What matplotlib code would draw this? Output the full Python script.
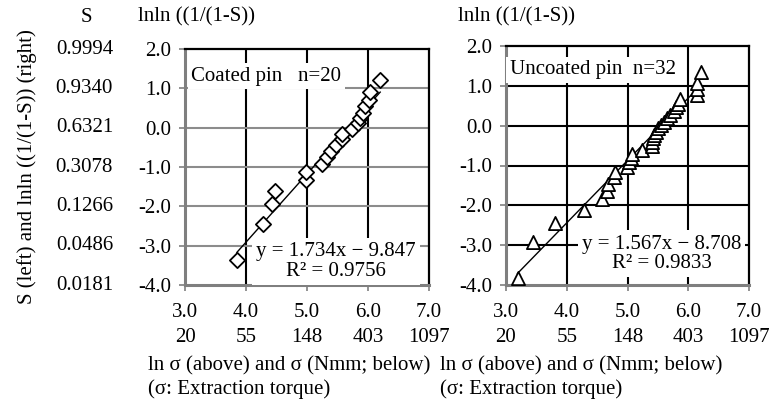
import matplotlib
matplotlib.use("Agg")
import matplotlib.pyplot as plt
import numpy as np

plt.rcParams['font.family'] = ['Liberation Serif', 'DejaVu Serif']
plt.rcParams['mathtext.fontset'] = 'stix'

# ---------------- data ----------------
coated_x = [3.85, 4.28, 4.42, 4.48, 4.98, 4.99, 5.24, 5.32, 5.39, 5.48,
            5.57, 5.58, 5.73, 5.84, 5.87, 5.92, 5.95, 6.02, 6.04, 6.20]
coated_y = [-3.36, -2.44, -1.95, -1.61, -1.34, -1.12, -0.92, -0.75, -0.59, -0.44,
            -0.30, -0.16, -0.03, 0.11, 0.24, 0.38, 0.54, 0.70, 0.91, 1.22]
coated_fit = (1.734, -9.847)
coated_r2 = 0.9756

uncoated_x = [3.19, 3.45, 3.80, 4.29, 4.58, 4.66, 4.68, 4.77, 4.80, 4.99,
              5.02, 5.05, 5.07, 5.24, 5.40, 5.41, 5.42, 5.44, 5.47, 5.50,
              5.55, 5.60, 5.65, 5.70, 5.76, 5.80, 5.83, 5.86, 6.15, 6.14,
              6.15, 6.21]
uncoated_y = [-3.82, -2.92, -2.44, -2.11, -1.85, -1.64, -1.46, -1.30, -1.16, -1.03,
              -0.91, -0.80, -0.70, -0.60, -0.50, -0.41, -0.32, -0.24, -0.15, -0.07,
              0.02, 0.10, 0.19, 0.27, 0.36, 0.46, 0.55, 0.66, 0.78, 0.91,
              1.08, 1.34]
uncoated_fit = (1.567, -8.708)
uncoated_r2 = 0.9833

x_ticks = [3.0, 4.0, 5.0, 6.0, 7.0]
x_sigma_labels = ['20', '55', '148', '403', '1097']
y_ticks = [2.0, 1.0, 0.0, -1.0, -2.0, -3.0, -4.0]
s_labels = ['0.9994', '0.9340', '0.6321', '0.3078', '0.1266', '0.0486', '0.0181']

W, H = 772, 412
fig = plt.figure(figsize=(W / 100, H / 100), dpi=100)
FS = 15
GRAY = '#7f7f7f'


def px(x, y):
    return x / W, 1 - y / H


def make_axes(rect, xs, ys, fit, r2, marker, ms, label, label_xy, eq_xy,
              hgrid_color):
    ax = fig.add_axes(rect)
    ax.set_xlim(3.0, 7.0)
    ax.set_ylim(-4.0, 2.0)
    ax.set_axisbelow(True)
    for v in x_ticks[1:-1]:
        ax.axvline(v, color='black', lw=1.5, zorder=0.5)
    for v in y_ticks[1:-1]:
        ax.axhline(v, color=hgrid_color, lw=1.5, zorder=0.5)
    ax.scatter(xs, ys, marker=marker, s=ms, facecolors='white',
               edgecolors='black', linewidths=1.3, zorder=3)
    a, b = fit
    lx = np.array([min(xs), max(xs)])
    ax.plot(lx, a * lx + b, color='black', lw=1.0, zorder=2)
    ax.set_xticks(x_ticks)
    ax.set_xticklabels([f"{v:.1f}\n{s}" for v, s in zip(x_ticks, x_sigma_labels)],
                       fontsize=FS)
    for t in ax.get_xticklabels():
        t.set_linespacing(1.4)
    ax.set_yticks(y_ticks)
    ax.set_yticklabels([f"{v:.1f}" for v in y_ticks], fontsize=FS)
    ax.tick_params(axis='both', direction='out', length=4, color=GRAY, width=1.2)
    ax.tick_params(axis='x', pad=9)
    ax.tick_params(axis='y', pad=6)
    for s in ['top', 'right']:
        ax.spines[s].set_color('black')
        ax.spines[s].set_linewidth(1.6)
    for s in ['left', 'bottom']:
        ax.spines[s].set_color(GRAY)
        ax.spines[s].set_linewidth(2.2)
    ax.text(label_xy[0], label_xy[1], label, transform=ax.transAxes,
            fontsize=FS, ha='left', va='center', zorder=4,
            bbox=dict(facecolor='white', edgecolor='none', pad=2.5))
    sign = '\u2212' if b < 0 else '+'
    eq = f"y = {a:.3f}x {sign} {abs(b):.3f}\nR\u00b2 = {r2:.4f}"
    ax.text(eq_xy[0], eq_xy[1], eq, transform=ax.transAxes, fontsize=FS,
            ha='center', va='center', multialignment='center', zorder=4,
            linespacing=1.05,
            bbox=dict(facecolor='white', edgecolor='none', pad=3))
    return ax


ax1 = make_axes([185 / W, (H - 285) / H, 244 / W, 236 / H],
                coated_x, coated_y, coated_fit, coated_r2, 'D', 60,
                'Coated pin   n=20', (0.025, 0.885), (0.62, 0.10), '#8c8c8c')
ax2 = make_axes([506 / W, (H - 285) / H, 243 / W, 239 / H],
                uncoated_x, uncoated_y, uncoated_fit, uncoated_r2, '^', 90,
                'Uncoated pin  n=32', (0.015, 0.90), (0.64, 0.13), 'black')

# S labels on the left of the left panel
for v, s in zip(y_ticks, s_labels):
    ax1.text(-0.295, v, s, transform=ax1.get_yaxis_transform(),
             fontsize=FS, ha='right', va='center')

fig.text(*px(86, 17), 'S', fontsize=FS, ha='center', va='center')
fig.text(*px(138, 17), 'lnln ((1/(1-S))', fontsize=FS, ha='left', va='center')
fig.text(*px(458, 17), 'lnln ((1/(1-S))', fontsize=FS, ha='left', va='center')
fig.text(*px(27, 167), 'S (left) and lnln ((1/(1-S)) (right)', fontsize=FS,
         rotation=90, ha='center', va='center')
for x0 in (148, 440):
    fig.text(*px(x0, 366), 'ln \u03c3 (above) and \u03c3 (Nmm; below)',
             fontsize=FS, ha='left', va='center')
    fig.text(*px(x0, 389), '(\u03c3: Extraction torque)',
             fontsize=FS, ha='left', va='center')

fig.savefig('out.png', dpi=100)
